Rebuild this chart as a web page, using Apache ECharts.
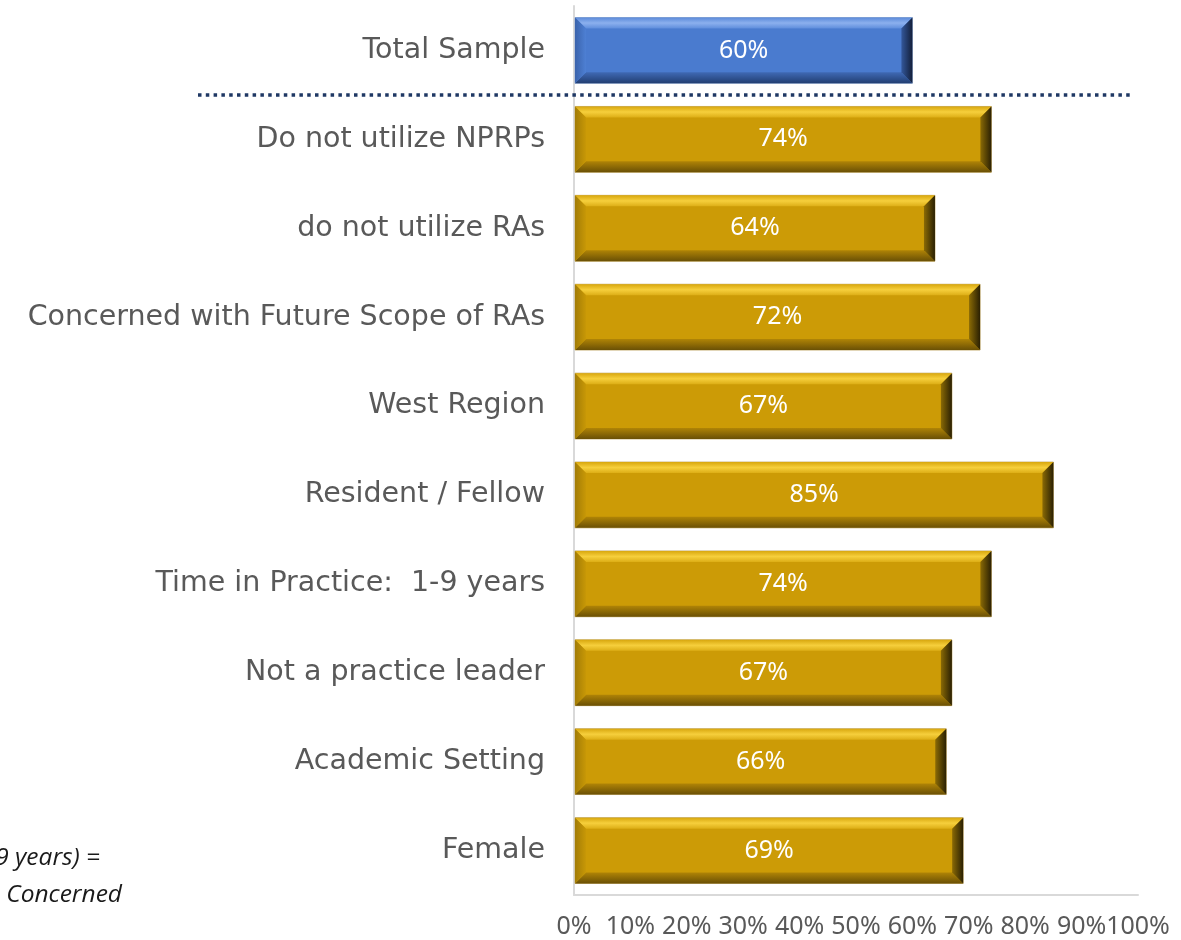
<!DOCTYPE html>
<html>
<head>
<meta charset="utf-8">
<script src="https://cdn.jsdelivr.net/npm/echarts@6/dist/echarts.min.js"></script>
<style>
  html, body { margin: 0; padding: 0; background: #fff; }
  #chart { width: 1181px; height: 940px; }
</style>
</head>
<body>
<div id="chart"></div>
<script>
// 类别（从上到下）
const categories = [
  'Total Sample',
  'Do not utilize NPRPs',
  'do not utilize RAs',
  'Concerned with Future Scope of RAs',
  'West Region',
  'Resident / Fellow',
  'Time in Practice:  1-9 years',
  'Not a practice leader',
  'Academic Setting',
  'Female'
]
// 百分比
const values = [60, 74, 64, 72, 67, 85, 74, 67, 66, 69]
// 横轴刻度
const xTicks = [0, 10, 20, 30, 40, 50, 60, 70, 80, 90, 100]

const palettes = {
  blue: {
    main: '#4A7BCF', topEdge: '#5C8BDA', topMid: '#8CB0EE', topIn: '#5E8DDC',
    leftEdge: '#3A63AC', leftIn: '#4E80D4', bottomIn: '#3F69B4', bottomEdge: '#223E72',
    rightIn: '#33579A', rightEdge: '#131F3A', edge: '#9AAFD0'
  },
  gold: {
    main: '#CC9B06', topEdge: '#D8A70E', topMid: '#F6CF3C', topIn: '#DDAE16',
    leftEdge: '#A27C06', leftIn: '#C89806', bottomIn: '#B08406', bottomEdge: '#6A5005',
    rightIn: '#8A6A05', rightEdge: '#2A2003', edge: '#C8B27A'
  }
}

const chart = echarts.init(document.getElementById('chart'))

function grad (x2, y2, c0, c1, mid) {
  const stops = [{ offset: 0, color: c0 }]
  if (mid) stops.push({ offset: 0.5, color: mid })
  stops.push({ offset: 1, color: c1 })
  return new echarts.graphic.LinearGradient(0, 0, x2, y2, stops)
}

// 斜面效果的条形
function renderBar (params, api) {
  const start = api.coord([0, api.value(1)])
  const end = api.coord([api.value(0), api.value(1)])
  const h = api.size([0, 1])[1] * 0.74
  const x0 = start[0] + 1
  const x1 = end[0]
  const y0 = start[1] - h / 2
  const y1 = start[1] + h / 2
  const b = 11
  const p = params.dataIndex === 0 ? palettes.blue : palettes.gold
  return {
    type: 'group',
    children: [
      { type: 'rect', shape: { x: x0, y: y0, width: x1 - x0, height: h }, style: { fill: p.main, stroke: p.edge, lineWidth: 1 } },
      { type: 'polygon', shape: { points: [[x0, y0], [x1, y0], [x1 - b, y0 + b], [x0 + b, y0 + b]] },
        style: { fill: grad(0, 1, p.topEdge, p.topIn, p.topMid) } },
      { type: 'polygon', shape: { points: [[x0, y1], [x1, y1], [x1 - b, y1 - b], [x0 + b, y1 - b]] },
        style: { fill: grad(0, 1, p.bottomIn, p.bottomEdge) } },
      { type: 'polygon', shape: { points: [[x0, y0], [x0 + b, y0 + b], [x0 + b, y1 - b], [x0, y1]] },
        style: { fill: grad(1, 0, p.leftEdge, p.leftIn) } },
      { type: 'polygon', shape: { points: [[x1, y0], [x1 - b, y0 + b], [x1 - b, y1 - b], [x1, y1]] },
        style: { fill: grad(1, 0, p.rightIn, p.rightEdge) } },
      { type: 'text', style: { text: api.value(0) + '%', x: (x0 + x1) / 2, y: start[1], align: 'center', verticalAlign: 'middle', fill: '#fff', font: '25px "Noto Sans", sans-serif' } }
    ]
  }
}

const option = {
  animation: false,
  grid: { left: 574, right: 43, top: 6, bottom: 45 },
  xAxis: {
    type: 'value',
    min: xTicks[0],
    max: xTicks[xTicks.length - 1],
    interval: 10,
    splitLine: { show: false },
    axisTick: { show: false },
    axisLine: { show: true, lineStyle: { color: '#d9d9d9', width: 2 } },
    axisLabel: {
      formatter: '{value}%',
      color: '#595959',
      fontSize: 25,
      fontFamily: '"Noto Sans", sans-serif',
      margin: 19,
      width: 44,
      overflow: 'none',
      showMinLabel: true,
      showMaxLabel: true,
      hideOverlap: false
    }
  },
  yAxis: {
    type: 'category',
    inverse: true,
    data: categories,
    axisTick: { show: false },
    axisLine: { show: true, lineStyle: { color: '#d9d9d9', width: 2 } },
    axisLabel: { color: '#595959', fontSize: 28.5, fontFamily: '"DejaVu Sans", sans-serif', margin: 29 }
  },
  series: [{
    type: 'custom',
    renderItem: renderBar,
    encode: { x: 0, y: 1 },
    data: values.map((v, i) => [v, i])
  }],
  graphic: [
    { type: 'line', shape: { x1: 198, y1: 95, x2: 1130, y2: 95 }, style: { stroke: '#1F3864', lineWidth: 3.5, lineDash: [3.5, 4.3] }, z: 10 },
    { type: 'text', style: { text: '(1-9 years) =', x: 100, y: 858, align: 'right', verticalAlign: 'middle', fill: '#1a1a1a', font: 'italic 24.5px "Open Sans", sans-serif' } },
    { type: 'text', style: { text: 'Concerned', x: 122, y: 895, align: 'right', verticalAlign: 'middle', fill: '#1a1a1a', font: 'italic 24.5px "Open Sans", sans-serif' } }
  ]
}
chart.setOption(option)
</script>
</body>
</html>
